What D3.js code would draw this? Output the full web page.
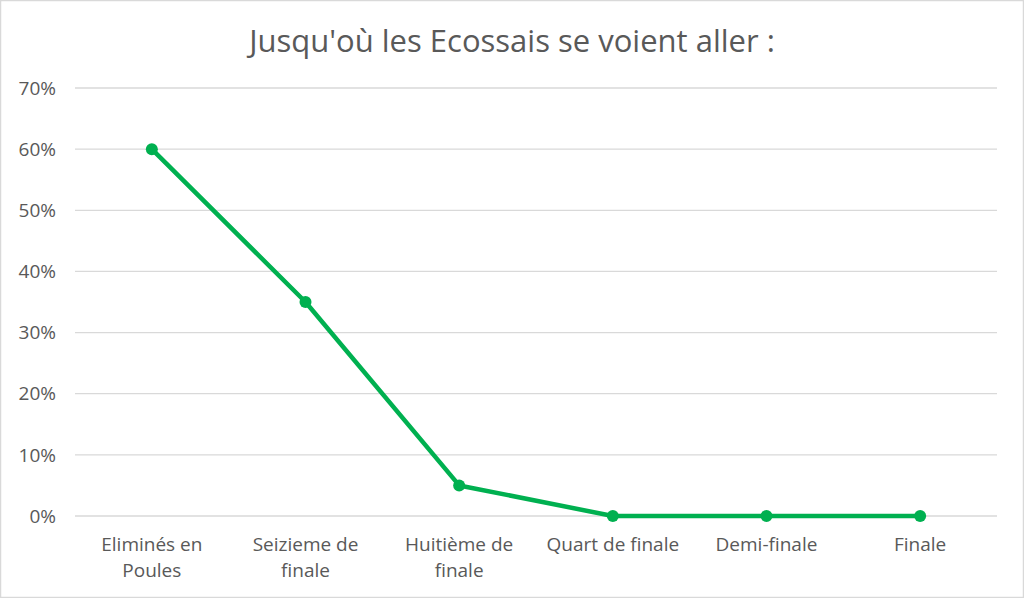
<!DOCTYPE html>
<html>
<head>
<meta charset="utf-8">
<script src="https://cdn.jsdelivr.net/npm/d3@7"></script>
<style>
  body { margin: 0; background: #fff; }
  svg { display: block; font-family: "Open Sans", "Noto Sans", sans-serif; }
</style>
</head>
<body>
<svg width="1024" height="598"></svg>
<script>
var categories = [["Eliminés en", "Poules"], ["Seizieme de", "finale"], ["Huitième de", "finale"], ["Quart de finale"], ["Demi-finale"], ["Finale"]];
var values = [0.60, 0.35, 0.05, 0, 0, 0];
var yTicks = [0, 0.1, 0.2, 0.3, 0.4, 0.5, 0.6, 0.7];

var width = 1024, height = 598;
var margin = {left: 75, right: 27, top: 88, bottom: 82};

var svg = d3.select("svg");

svg.append("rect")
  .attr("x", 0.5).attr("y", 0.5)
  .attr("width", width - 1).attr("height", height - 1)
  .attr("fill", "#fff")
  .attr("stroke", "#d9d9d9")
  .attr("stroke-width", 1.5);

svg.append("text")
  .attr("x", 512).attr("y", 52)
  .attr("text-anchor", "middle")
  .attr("fill", "#595959")
  .style("font-size", "31px")
  .text("Jusqu'où les Ecossais se voient aller :");

var x = d3.scaleBand()
  .domain(d3.range(categories.length))
  .range([margin.left, width - margin.right]);

var y = d3.scaleLinear()
  .domain([0, 0.7])
  .range([height - margin.bottom, margin.top]);

var g = svg.append("g");

// gridlines
g.selectAll("line.grid")
  .data(yTicks)
  .enter().append("line")
    .attr("class", "grid")
    .attr("x1", margin.left).attr("x2", width - margin.right)
    .attr("y1", function(d){ return y(d); })
    .attr("y2", function(d){ return y(d); })
    .attr("stroke", "#d9d9d9")
    .attr("stroke-width", 1.3);

// y labels
g.selectAll("text.ylab")
  .data(yTicks)
  .enter().append("text")
    .attr("class", "ylab")
    .attr("x", 56)
    .attr("y", function(d){ return y(d); })
    .attr("dy", "0.35em")
    .attr("text-anchor", "end")
    .attr("fill", "#595959")
    .style("font-size", "19px")
    .text(d3.format(".0%"));

// x labels
var xl = g.selectAll("text.xlab")
  .data(categories)
  .enter().append("text")
    .attr("class", "xlab")
    .attr("x", function(d, i){ return x(i) + x.bandwidth() / 2; })
    .attr("y", height - margin.bottom + 35)
    .attr("text-anchor", "middle")
    .attr("fill", "#595959")
    .style("font-size", "19px");

xl.selectAll("tspan")
  .data(function(d){ return d; })
  .enter().append("tspan")
    .attr("x", function(){ return d3.select(this.parentNode).attr("x"); })
    .attr("dy", function(d, i){ return i === 0 ? 0 : 26; })
    .text(function(d){ return d; });

var line = d3.line()
  .x(function(d, i){ return x(i) + x.bandwidth() / 2; })
  .y(function(d){ return y(d); });

g.append("path")
  .datum(values)
  .attr("d", line)
  .attr("fill", "none")
  .attr("stroke", "#00b050")
  .attr("stroke-width", 4.5)
  .attr("stroke-linejoin", "round");

g.selectAll("circle")
  .data(values)
  .enter().append("circle")
    .attr("cx", function(d, i){ return x(i) + x.bandwidth() / 2; })
    .attr("cy", function(d){ return y(d); })
    .attr("r", 6)
    .attr("fill", "#00b050");
</script>
</body>
</html>
